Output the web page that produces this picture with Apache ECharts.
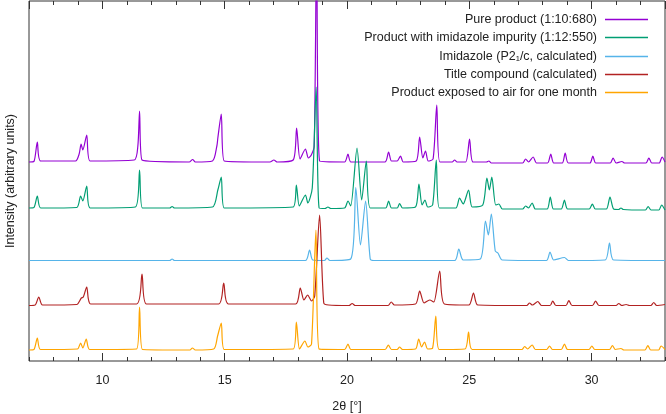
<!DOCTYPE html>
<html>
<head>
<meta charset="utf-8">
<script src="https://cdn.jsdelivr.net/npm/echarts@6/dist/echarts.min.js"></script>
<style>
  html, body { margin: 0; padding: 0; background: #fff; }
  #chart { width: 666px; height: 414px; }
</style>
</head>
<body>
<div id="chart"></div>
<script>
// 2theta [deg] vs intensity (arbitrary units, traces already stacked)
const seriesNames = [
  'Pure product (1:10:680)',
  'Product with imidazole impurity (1:12:550)',
  'Imidazole (P2\u2081/c, calculated)',
  'Title compound (calculated)',
  'Product exposed to air for one month'
]
const seriesColors = ['#9400d3', '#009e73', '#56b4e9', '#b22222', '#ffa500']

const pureProduct = [
  [7.0,199],[7.2,199.5],[7.34,219],[7.48,200],
  [8.9,200],[9.05,207],[9.13,217],[9.2,211],[9.36,226],[9.5,200],
  [11.3,201],[11.45,215],[11.52,250],[11.62,201],
  [13.55,199],[13.69,201.5],[13.8,199],
  [14.5,200],[14.68,215],[14.72,223],[14.86,247],[14.98,200],
  [16.85,199],[17.01,201],[17.15,199],
  [17.8,201],[17.94,233],[18.08,202],[18.3,212],[18.42,203],[18.54,206],[18.66,215],[18.76,420],[18.88,200],
  [19.9,199],[20.04,207],[20.16,199],
  [21.55,199],[21.7,209],[21.82,200],[22.05,200],[22.19,205],[22.3,199],
  [22.83,200],[22.97,224],[23.1,203],[23.21,210],[23.32,200],[23.52,202],[23.67,256],[23.8,199],
  [24.3,199],[24.4,201],[24.5,199],
  [24.85,199],[25.01,222],[25.15,199],
  [25.7,199],[25.8,200],[25.9,198],
  [27.18,198],[27.3,202],[27.42,199],[27.61,204],[27.75,198],
  [28.2,198],[28.33,207],[28.45,198],
  [28.8,198],[28.92,208],[29.05,198],
  [29.93,198],[30.05,205],[30.17,198],
  [30.76,198],[30.88,203],[31.0,198],[31.24,199.5],[31.35,198],
  [32.22,198],[32.34,203],[32.46,198],
  [32.76,198],[32.88,204],[33.0,199]
]

const withImidazole = [
  [7.0,153],[7.2,153.5],[7.34,165],[7.48,153],
  [8.95,153.5],[9.11,165],[9.2,160],[9.36,175],[9.5,153],
  [11.35,154],[11.52,191],[11.64,153],
  [12.75,153],[12.85,154.5],[12.95,153],
  [14.5,154],[14.72,171],[14.86,184],[14.98,153],
  [17.8,154],[17.93,176],[18.05,155],[18.3,166],[18.4,158],[18.58,173],[18.74,274],[18.86,153],
  [19.1,152.5],[19.22,154],[19.34,152.5],
  [19.9,153],[20.04,160],[20.15,155],[20.41,213],[20.6,161],[20.79,200],[20.95,153],
  [21.58,153],[21.7,160],[21.82,153],[22.05,153],[22.15,157.5],[22.27,153],
  [22.8,154],[22.94,177],[23.07,156],[23.19,161],[23.3,154],[23.5,156],[23.65,201],[23.78,153],
  [24.45,153],[24.6,163],[24.75,157],[24.97,171],[25.12,154],[25.55,156],[25.72,183],[25.82,171],[25.92,184],[26.08,156],[26.21,157],[26.35,152],
  [27.18,152],[27.3,155],[27.42,153],[27.57,158],[27.7,152],
  [28.18,152],[28.31,164],[28.44,152],
  [28.76,152],[28.89,161],[29.02,152],
  [29.9,152],[30.03,157],[30.15,152],
  [30.6,152],[30.75,164],[30.9,152],
  [31.1,151.5],[31.2,153],[31.3,151.5],
  [32.2,151],[32.31,154.5],[32.43,151],
  [32.75,151],[32.86,156],[33.0,151]
]

const imidazoleCalc = [
  [7.0,100.5],[12.75,100.5],[12.85,102],[12.95,100.5],
  [18.3,100.5],[18.47,111],[18.6,101],[19.08,100.5],[19.18,103],[19.3,100.5],
  [20.15,102],[20.36,173.5],[20.55,116],[20.76,160],[20.95,102],[21.1,100.5],
  [24.4,100.5],[24.57,112],[24.75,101],
  [25.45,102],[25.66,140],[25.78,126],[25.9,147],[26.06,110],[26.17,108],[26.35,101],
  [28.15,100.5],[28.3,109],[28.45,101],[28.89,103.5],[29.05,100.5],
  [30.55,101],[30.73,118],[30.9,101],[33.0,100.5]
]

const titleCalc = [
  [7.0,55.5],[7.25,56],[7.4,64],[7.55,56],
  [8.95,56.5],[9.14,63],[9.22,64],[9.36,74],[9.52,57],
  [11.4,57],[11.62,87],[11.8,57],
  [14.75,57],[14.96,78],[15.15,57],
  [17.9,57],[18.09,73],[18.24,61],[18.39,66],[18.55,60],[18.68,65],[18.88,146],[19.05,58],[19.25,56],
  [20.08,55.5],[20.21,57.5],[20.34,55.5],
  [21.68,55.5],[21.81,59],[21.94,56],
  [22.8,57],[22.97,70],[23.15,58],[23.38,61],[23.55,59],[23.79,90],[23.98,57],
  [24.98,56],[25.17,68],[25.35,56],
  [27.35,55.5],[27.46,58],[27.58,56],[27.8,59.5],[27.95,55.5],
  [28.3,55.5],[28.41,60],[28.54,55.5],
  [28.95,55.5],[29.07,60.5],[29.2,55.5],
  [30.03,55.5],[30.16,60],[30.3,55.5],
  [31.0,55.5],[31.11,57.5],[31.24,55.5],[31.41,56.5],[31.55,55.5],
  [32.42,55.5],[32.54,58.5],[32.66,55.5],[33.0,56.5]
]

const airExposed = [
  [7.0,11],[7.2,11.5],[7.34,23],[7.47,11.5],
  [8.98,12],[9.11,18],[9.2,13],[9.34,22],[9.48,11.5],
  [11.4,12],[11.52,54],[11.64,11.5],
  [13.58,11],[13.68,13],[13.8,11],
  [14.55,12],[14.71,25],[14.86,38],[14.98,11.5],
  [17.8,12],[17.93,39],[18.06,12],[18.28,20],[18.4,14],[18.55,17],[18.73,131],[18.86,12],
  [19.9,11.5],[20.04,17],[20.16,11.5],
  [21.56,11.5],[21.69,16],[21.82,11.5],[22.05,11.5],[22.15,14],[22.27,11.5],
  [22.8,12],[22.93,22],[23.05,14],[23.17,19],[23.3,12],[23.5,13],[23.63,45],[23.77,11.5],
  [24.82,12],[24.97,29],[25.12,11.5],
  [27.15,11.5],[27.26,14.5],[27.38,12],[27.57,16],[27.7,11.5],
  [28.16,11.5],[28.28,15],[28.4,11.5],
  [28.76,11.5],[28.89,17],[29.02,11.5],
  [29.89,11.5],[30.01,15],[30.13,11.5],
  [30.73,11.5],[30.85,15.5],[30.97,11.5],[31.2,12.5],[31.32,11],
  [32.18,11],[32.3,15.5],[32.42,11],
  [32.74,11],[32.84,15],[33.0,11.5]
]

const traces = [pureProduct, withImidazole, imidazoleCalc, titleCalc, airExposed]
const legendTops = [13, 31, 50, 68, 86]

const font = 'Liberation Sans, Arial, sans-serif'
const textColor = '#222'

function tickAxis(position, major) {
  return {
    type: 'value',
    position: position,
    min: 7,
    max: 33,
    // major axis lets echarts pick the 5-step ticks, minor one uses every degree
    interval: major ? undefined : 1,
    splitNumber: major ? 5 : undefined,
    axisLine: { show: false },
    axisTick: { show: true, inside: true, length: major ? 8 : 4, lineStyle: { color: '#333', width: 1 } },
    axisLabel: {
      show: major && position === 'bottom',
      showMinLabel: false,
      showMaxLabel: false,
      color: textColor,
      fontFamily: font,
      fontSize: 12.5,
      margin: 13
    },
    splitLine: { show: false }
  }
}

const chart = echarts.init(document.getElementById('chart'), null, { renderer: 'canvas' })

const xAxes = [tickAxis('bottom', true), tickAxis('bottom', false), tickAxis('top', true), tickAxis('top', false)]
xAxes[0].name = '2\u03b8 [\u00b0]'
xAxes[0].nameLocation = 'middle'
xAxes[0].nameGap = 39
xAxes[0].nameTextStyle = { color: textColor, fontFamily: font, fontSize: 12.5 }

const option = {
  animation: false,
  backgroundColor: '#fff',
  grid: {
    left: 29, right: 1, top: 1, bottom: 53,
    outerBoundsMode: 'none',
    show: true, borderColor: '#333', borderWidth: 1
  },
  legend: seriesNames.map((name, i) => ({
    data: [name],
    right: 18,
    top: legendTops[i],
    padding: 0,
    align: 'right',
    icon: 'rect',
    itemWidth: 43,
    itemHeight: 1.5,
    selectedMode: false,
    textStyle: { color: textColor, fontFamily: font, fontSize: 12.5, padding: [0, 3, 0, 0] }
  })),
  xAxis: xAxes,
  yAxis: {
    type: 'value',
    min: 0,
    max: 360,
    name: 'Intensity (arbitrary units)',
    nameLocation: 'middle',
    nameGap: 12,
    nameTextStyle: { color: textColor, fontFamily: font, fontSize: 12.5 },
    axisLine: { show: false },
    axisTick: { show: false },
    axisLabel: { show: false },
    splitLine: { show: false }
  },
  series: traces.map((data, i) => ({
    name: seriesNames[i],
    type: 'line',
    xAxisIndex: 0,
    data: data,
    showSymbol: false,
    symbol: 'none',
    smooth: 0.25,
    clip: true,
    color: seriesColors[i],
    lineStyle: { width: 1.2, color: seriesColors[i] }
  }))
}

chart.setOption(option)
</script>
</body>
</html>
